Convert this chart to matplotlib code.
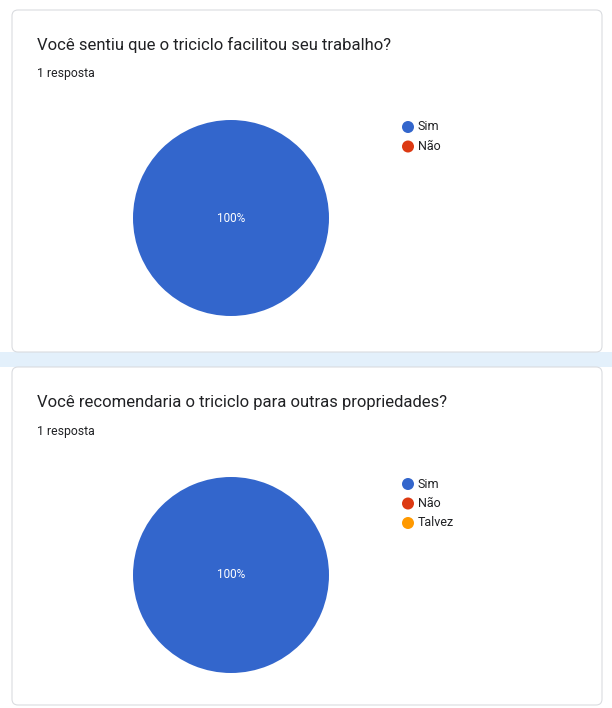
import matplotlib
matplotlib.use("Agg")
import matplotlib.pyplot as plt
from matplotlib.patches import FancyBboxPatch, Rectangle, Circle

plt.rcParams['font.family'] = ['Roboto', 'DejaVu Sans']

# data
titulos = ["Você sentiu que o triciclo facilitou seu trabalho?",
           "Você recomendaria o triciclo para outras propriedades?"]
respostas = ["1 resposta", "1 resposta"]
opcoes_1 = ["Sim", "Não"]
valores_1 = [1, 0]
opcoes_2 = ["Sim", "Não", "Talvez"]
valores_2 = [1, 0, 0]
cores = ["#3366cc", "#dc3912", "#ff9900"]

W, H = 612, 708
fig = plt.figure(figsize=(W / 100, H / 100), dpi=100)
fig.patch.set_facecolor("white")

# eixo de fundo em pixels
bg = fig.add_axes([0, 0, 1, 1], zorder=0)
bg.set_xlim(0, W)
bg.set_ylim(H, 0)
bg.axis("off")

bg.add_patch(Rectangle((0, 352), W, 15, facecolor="#e3f0fb", edgecolor="none"))
for top, bot in [(10, 352), (367, 705)]:
    bg.add_patch(FancyBboxPatch((12, top), W - 12 - 10, bot - top,
                                boxstyle="round,pad=0,rounding_size=6",
                                facecolor="white", edgecolor="#dadce0", linewidth=0.8))

blocos = [(titulos[0], respostas[0], opcoes_1, valores_1, 45, 218, 127),
          (titulos[1], respostas[1], opcoes_2, valores_2, 402, 575, 484)]

for titulo, resp, opcoes, valores, ty, cy, ly in blocos:
    bg.text(37, ty, titulo, fontsize=12, color="#202124", va="center", ha="left")
    bg.text(37, ty + 29, resp, fontsize=8.8, color="#202124", va="center", ha="left")

    r = 98
    ax = fig.add_axes([(231 - r) / W, 1 - (cy + r) / H, 2 * r / W, 2 * r / H], zorder=2)
    total = sum(valores)
    fatias = [v for v in valores if v > 0]
    cores_f = [c for v, c in zip(valores, cores) if v > 0]
    ax.pie(fatias, colors=cores_f, startangle=90, counterclock=False,
           wedgeprops=dict(linewidth=0))
    ax.set_xlim(-1, 1)
    ax.set_ylim(-1, 1)
    ax.set_aspect("equal")
    ax.text(0, 0, "{:.0f}%".format(100 * fatias[0] / total), color="white",
            fontsize=8.5, ha="center", va="center")

    for i, op in enumerate(opcoes):
        yy = ly + i * 19.5
        bg.add_patch(Circle((408, yy), 6, facecolor=cores[i], edgecolor="none"))
        bg.text(418, yy, op, fontsize=9, color="#202124", va="center", ha="left")

fig.savefig("out.png", dpi=100)
